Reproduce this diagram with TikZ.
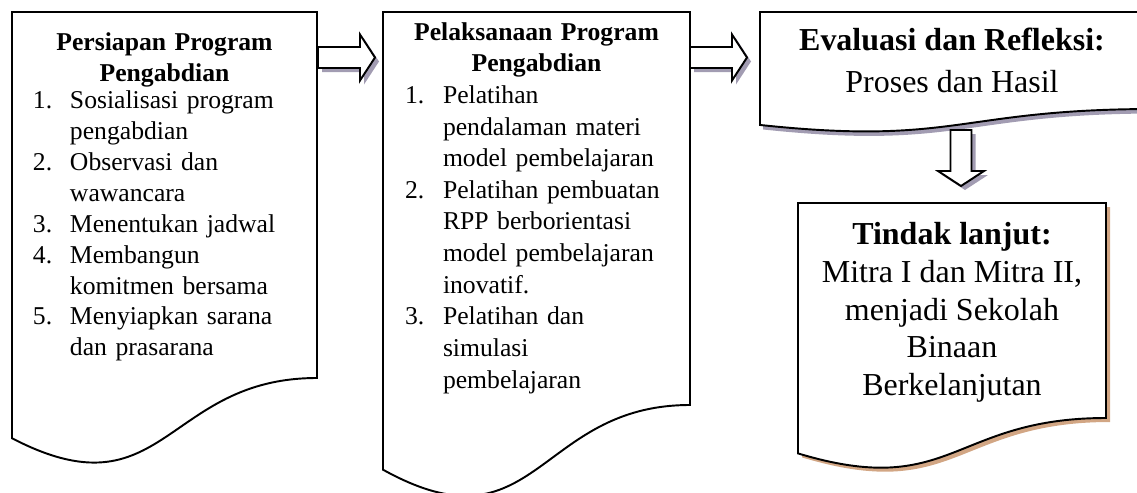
\documentclass[tikz,border=0pt]{standalone}
\usepackage{fontspec}
\setmainfont{Liberation Serif}
\usepackage{enumitem}
\usetikzlibrary{calc, positioning, shadows}
\definecolor{shadegray}{HTML}{A29CB2}
\definecolor{shadetan}{HTML}{D2A684}

% document outline hung below a frame node
\newcommand{\docoutline}[2][]{%
  \draw[docline,#1] (#2.north west) -- (#2.north east) -- (#2.south east)
    .. controls (#2.south) and ($(#2.north)!1.381!(#2.south)$)
    .. ($(#2.north west)!1.1646!(#2.south west)$) -- cycle;}

% hollow block arrow between two named coordinates
\newcommand{\blockarrow}[2]{%
  \coordinate (ba-b) at ($(#2)!0.3cm!(#1)$);
  \draw[blockarr] ($(#1)!0.21cm!90:(#2)$) -- ($(ba-b)!0.21cm!90:(#2)$)
    -- ($(ba-b)!0.46cm!90:(#2)$) -- (#2) -- ($(ba-b)!0.46cm!-90:(#2)$)
    -- ($(ba-b)!0.21cm!-90:(#2)$) -- ($(#1)!0.21cm!-90:(#2)$) -- cycle;}

\begin{document}
\begin{tikzpicture}[
  frame/.style={rectangle, draw=none, inner sep=0pt, outer sep=0pt},
  docline/.style={draw=black, fill=white, line width=1.1pt},
  blockarr/.style={draw=black, fill=white, line width=1.1pt,
                   drop shadow={shadow xshift=0.08cm, shadow yshift=-0.08cm,
                                fill=shadegray, opacity=1}},
  listtext/.style={anchor=north, inner sep=0pt,
                   font=\fontsize{14.6}{17.6}\selectfont},
  bigtext/.style={anchor=north, inner sep=0pt, align=center,
                  font=\fontsize{18.2}{21.5}\selectfont},
]
\useasboundingbox (0,0) rectangle (22.74,-9.84);
\clip (0,0) rectangle (22.74,-9.84);

% frames (flat part of each box)
\node[frame, minimum width=6.10cm, minimum height=7.32cm] (prep) at (3.29,-3.90) {};
\node[frame, minimum width=6.14cm, minimum height=7.86cm] (exec) at (10.73,-4.17) {};
\node[frame, minimum width=7.90cm, minimum height=1.94cm] (eval) at (19.15,-1.21) {};
\node[frame, minimum width=6.16cm, minimum height=4.30cm] (follow) at (19.04,-6.21) {};

\docoutline{prep}
\docoutline{exec}
\docoutline[drop shadow={shadow xshift=0.06cm, shadow yshift=-0.09cm,
                         fill=shadegray, opacity=1}]{eval}
\docoutline[drop shadow={shadow xshift=0.08cm, shadow yshift=-0.08cm,
                         fill=shadetan, opacity=1}]{follow}

% texts
\node[listtext, text width=6.10cm, below=0.40cm of prep.north] (prep-txt) {%
  {\centering\bfseries Persiapan Program\\Pengabdian\par}
  \vspace{-2pt}\raggedright
  \begin{enumerate}[nosep, align=left, labelindent=0.42cm, labelwidth=0.6cm,
                    leftmargin=1.16cm, labelsep=*]
    \item Sosialisasi program\\pengabdian
    \item Observasi dan\\wawancara
    \item Menentukan jadwal
    \item Membangun\\komitmen bersama
    \item Menyiapkan sarana\\dan prasarana
  \end{enumerate}};
\node[listtext, text width=6.14cm, below=0.20cm of exec.north,
      font=\fontsize{14.6}{18}\selectfont] (exec-txt) {%
  {\centering\bfseries Pelaksanaan Program\\Pengabdian\par}
  \raggedright
  \begin{enumerate}[nosep, align=left, labelindent=0.44cm, labelwidth=0.6cm,
                    leftmargin=1.20cm, labelsep=*]
    \item Pelatihan\\pendalaman materi\\model pembelajaran
    \item Pelatihan pembuatan\\RPP berborientasi\\model pembelajaran\\inovatif.
    \item Pelatihan dan\\simulasi\\pembelajaran
  \end{enumerate}};
\node[bigtext, below=0.32cm of eval.north, xshift=-0.11cm,
      font=\fontsize{18.2}{23.5}\selectfont] (eval-txt)
  {\textbf{Evaluasi dan Refleksi:}\\Proses dan Hasil};
\node[bigtext, below=0.38cm of follow.north] (follow-txt)
  {\textbf{Tindak lanjut:}\\Mitra I dan Mitra II,\\menjadi Sekolah\\Binaan\\Berkelanjutan};

% block arrows
\coordinate (a1s) at ($(prep.north east)+(0.02,-0.91)$);
\coordinate (a1e) at ($(exec.north west)+(-0.16,-0.91)$);
\coordinate (a2s) at ($(exec.north east)+(0,-0.91)$);
\coordinate (a2e) at ($(eval.north west)+(-0.26,-0.91)$);
\coordinate (a3s) at ($(eval.south)+(0.07,-0.42)$);
\coordinate (a3e) at ($(follow.north)+(0.18,0.34)$);
\blockarrow{a1s}{a1e}
\blockarrow{a2s}{a2e}
\blockarrow{a3s}{a3e}
\end{tikzpicture}
\end{document}
